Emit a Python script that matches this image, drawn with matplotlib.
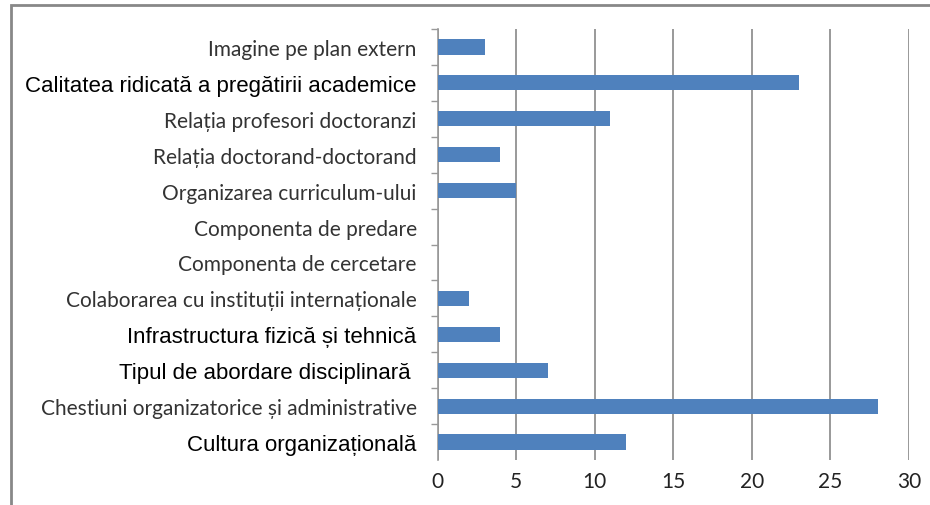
import matplotlib
matplotlib.use("Agg")
import matplotlib.pyplot as plt
from matplotlib.patches import Rectangle
from matplotlib.ticker import FixedLocator, NullFormatter

# Date (de sus in jos, ca in grafic)
categorii = [
    "Imagine pe plan extern",
    "Calitatea ridicată a pregătirii academice",
    "Relația profesori doctoranzi",
    "Relația doctorand-doctorand",
    "Organizarea curriculum-ului",
    "Componenta de predare",
    "Componenta de cercetare",
    "Colaborarea cu instituții internaționale",
    "Infrastructura fizică și tehnică",
    "Tipul de abordare disciplinară ",
    "Chestiuni organizatorice și administrative",
    "Cultura organizațională",
]
valori = [3, 23, 11, 4, 5, 0, 0, 2, 4, 7, 28, 12]
# etichetele scrise cu alt font (Arial) in original
etichete_arial = {
    "Calitatea ridicată a pregătirii academice",
    "Infrastructura fizică și tehnică",
    "Tipul de abordare disciplinară ",
    "Cultura organizațională",
}
x_ticks = [0, 5, 10, 15, 20, 25, 30]

W, H = 930, 506
fig = plt.figure(figsize=(W / 100, H / 100), dpi=100)
ax = fig.add_axes([437.5 / W, (H - 461) / H, (909 - 437.5) / W, (461 - 30) / H])

n = len(categorii)
pozitii = list(range(n))
ax.barh(pozitii, valori, height=0.42, color="#4F81BD", zorder=3)

ax.set_xlim(0, 30)
ax.set_ylim(n - 0.5, -0.5)

ax.set_xticks(x_ticks)
ax.set_xticklabels([str(t) for t in x_ticks], fontsize=15, color="#222222",
                   family=["Lato", "DejaVu Sans"])
ax.tick_params(axis="x", length=0, pad=8)
ax.grid(axis="x", color="#999999", linewidth=1.4, zorder=0)

ax.set_yticks(pozitii)
ax.set_yticklabels(categorii)
ax.tick_params(axis="y", which="major", length=0, pad=15)
# liniute intre categorii (fara cea de jos)
ax.yaxis.set_minor_locator(FixedLocator([i - 0.5 for i in range(n)]))
ax.yaxis.set_minor_formatter(NullFormatter())
ax.tick_params(axis="y", which="minor", length=5, width=1, color="#999999")

for lbl in ax.get_yticklabels():
    if lbl.get_text() in etichete_arial:
        lbl.set_family(["Liberation Sans", "DejaVu Sans"])
        lbl.set_fontsize(16)
        lbl.set_color("black")
    else:
        lbl.set_family(["Lato", "DejaVu Sans"])
        lbl.set_fontsize(15)
        lbl.set_color("#333333")

for s in ["top", "right", "bottom"]:
    ax.spines[s].set_visible(False)
ax.spines["left"].set_color("#999999")
ax.spines["left"].set_linewidth(1.2)

# chenarul exterior
fig.patches.append(Rectangle((11 / W, -0.05), 1.0, (H - 6) / H + 0.05,
                             transform=fig.transFigure, fill=False,
                             edgecolor="#888888", linewidth=2))

fig.savefig("out.png", dpi=100)
